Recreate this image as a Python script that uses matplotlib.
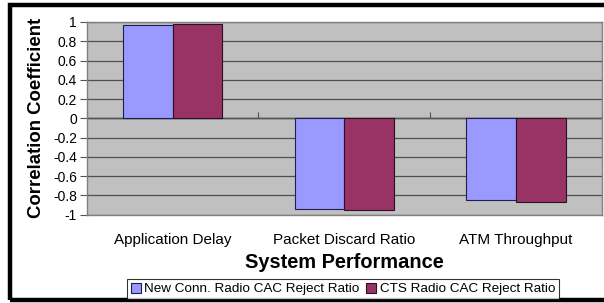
import matplotlib
matplotlib.use("Agg")
import matplotlib.pyplot as plt
import numpy as np
from matplotlib.patches import Rectangle

plt.rcParams['font.family'] = ['Liberation Sans', 'DejaVu Sans']

categories = ["Application Delay", "Packet Discard Ratio", "ATM Throughput"]
new_conn = [0.97, -0.945, -0.85]
cts = [0.975, -0.955, -0.865]
series_names = ["New Conn. Radio CAC Reject Ratio", "CTS Radio CAC Reject Ratio"]
yticks = [1, 0.8, 0.6, 0.4, 0.2, 0, -0.2, -0.4, -0.6, -0.8, -1]
ytick_labels = ["1", "0.8", "0.6", "0.4", "0.2", "0", "-0.2", "-0.4", "-0.6", "-0.8", "-1"]

fig = plt.figure(figsize=(6.04, 3.03), dpi=100)
ax = fig.add_axes([0.1435, 0.2917, 0.8532, 0.6357])
ax.set_facecolor("#c0c0c0")

x = np.arange(len(categories))
w = 0.29
b1 = ax.bar(x - w / 2, new_conn, w, color="#9999ff", edgecolor="#1f1f4f", linewidth=0.8,
            label=series_names[0], zorder=3)
b2 = ax.bar(x + w / 2, cts, w, color="#993366", edgecolor="#2a1020", linewidth=0.8,
            label=series_names[1], zorder=3)

ax.set_xlim(-0.5, 2.5)
ax.set_ylim(-1, 1)
ax.set_yticks(yticks)
ax.set_yticklabels(ytick_labels, fontsize=10)
ax.yaxis.grid(True, color="#4f4f4f", linewidth=0.9, zorder=1)
ax.set_axisbelow(True)
ax.axhline(0, color="#555555", linewidth=1.0, zorder=2)
ax.tick_params(axis='y', length=5, color="#555555", pad=2)

ax.set_xticks(x)
ax.set_xticklabels(categories, fontsize=11)
ax.tick_params(axis='x', length=0, pad=13)

# small tick marks on the zero line between categories
sec = ax.secondary_xaxis(0.5)
sec.set_xticks([-0.5, 0.5, 1.5, 2.5])
sec.set_xticklabels([])
sec.tick_params(length=4, color="#555555", direction='out')
sec.spines['bottom'].set_visible(False)

for s in ax.spines.values():
    s.set_color("#808080")
    s.set_linewidth(1.0)

ax.set_xlabel("System Performance", fontsize=14.4, fontweight='bold')
ax.xaxis.set_label_coords(0.5, -0.251)
ax.xaxis.label.set_verticalalignment('center')
ax.set_ylabel("Correlation Coefficient", fontsize=13.4, fontweight='bold')
ax.yaxis.set_label_coords(-0.0964, 0.5)
ax.yaxis.label.set_verticalalignment('center')

leg = fig.legend(handles=[b1, b2], loc='center', bbox_to_anchor=(343 / 604, 1 - 289 / 303),
                 ncol=2, fontsize=9.7, frameon=True, fancybox=False, handlelength=0.75,
                 handleheight=0.75, handletextpad=0.25, columnspacing=0.5, borderpad=0.25,
                 borderaxespad=0)
leg.get_frame().set_edgecolor("black")
leg.get_frame().set_linewidth(0.8)

# thick black frame around the picture (right edge is cut off)
fig.add_artist(Rectangle((10 / 604, 1 - 300 / 303), 1.2, 295 / 303,
                         transform=fig.transFigure, fill=False, edgecolor="black",
                         linewidth=3.2, clip_on=False))

fig.savefig("out.png", dpi=100)
